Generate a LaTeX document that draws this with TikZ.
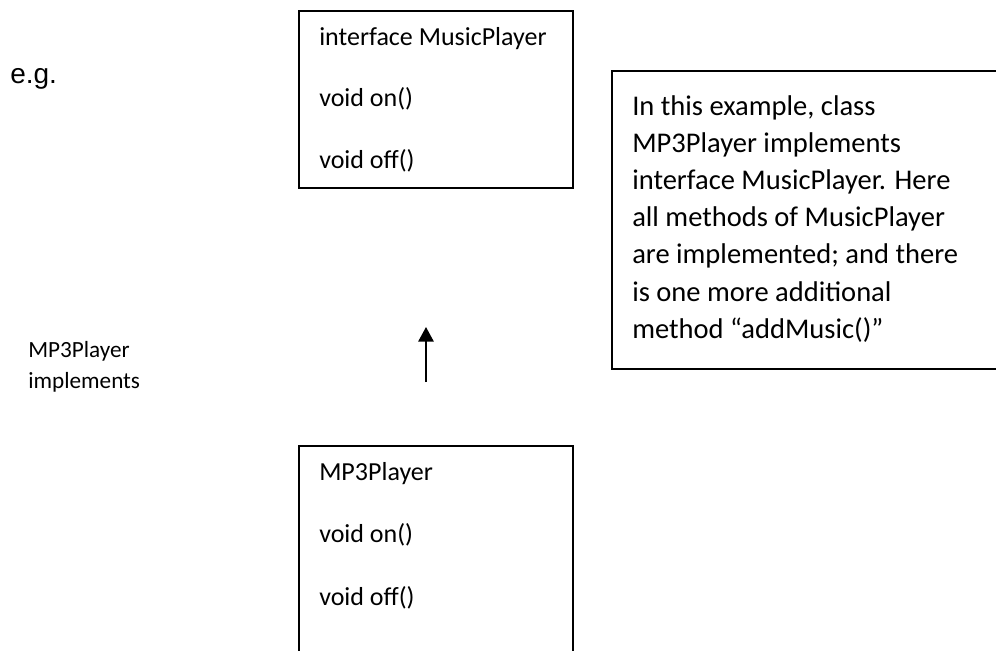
\documentclass[tikz,border=0pt]{standalone}
\usepackage{fontspec}
\setmainfont{Carlito}
\newfontfamily\arialfont{Liberation Sans}
\usetikzlibrary{arrows.meta}

\tikzset{
  umlbox/.style={draw,rectangle,line width=1.2pt,anchor=north west,inner sep=0pt},
  umltext/.style={anchor=base west,inner sep=0pt,font=\fontsize{19.5}{23}\selectfont},
  notetext/.style={anchor=base west,inner sep=0pt,font=\fontsize{21.4}{25}\selectfont},
  sidetext/.style={anchor=base west,inner sep=0pt,font=\fontsize{17.4}{21}\selectfont}
}

\begin{document}
\begin{tikzpicture}[x=0.75pt,y=-0.75pt,>={Triangle[length=11pt,width=11.5pt]}]

  \useasboundingbox (0,0) rectangle (996,650);
  \clip (0,0) rectangle (996,650);

  % e.g. label
  \node[anchor=base west,inner sep=0pt,font=\arialfont\fontsize{21}{25}\selectfont] (eg) at (10,83) {e.g.};

  % interface box
  \node[umlbox,minimum width=205.5pt,minimum height=132.75pt] (iface) at (298,10) {};
  \foreach \ln [count=\i from 0] in {interface MusicPlayer,void on(),void off()}
    \node[umltext] (iline\i) at (319,{45+61.5*\i}) {\ln};

  % note box
  \node[umlbox,minimum width=291.75pt,minimum height=223.5pt] (note) at (611,70) {};
  \foreach \ln [count=\i from 0] in {{In this example, class},MP3Player implements,
      interface MusicPlayer. Here,all methods of MusicPlayer,
      are implemented; and there,is one more additional,method “addMusic()”}
    \node[notetext] (nline\i) at (632,{115+37.2*\i}) {\ln};

  % side label
  \node[sidetext] (side1) at (28,357) {MP3Player};
  \node[sidetext] (side2) at (28,388) {implements};

  % implements arrow
  \coordinate (tail) at (426,382);
  \coordinate (head) at (426,327);
  \draw[->,line width=1.5pt] (tail) -- (head);

  % class box
  \node[umlbox,minimum width=205.5pt,minimum height=161.25pt] (mp3) at (298,445) {};
  \foreach \ln [count=\i from 0] in {MP3Player,void on(),void off()}
    \node[umltext] (cline\i) at (319,{480+62.5*\i}) {\ln};

\end{tikzpicture}
\end{document}
